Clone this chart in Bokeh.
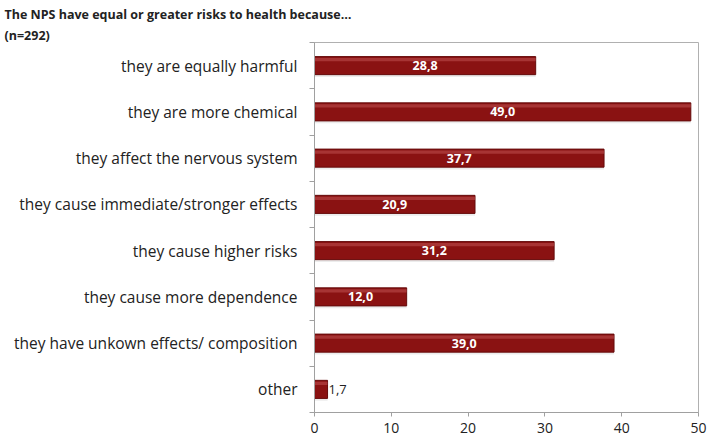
from bokeh.plotting import figure
from bokeh.models import Range1d, FixedTicker, Label, Title, ColumnDataSource
from bokeh.core.properties import value
from bokeh.embed import file_html
from bokeh.resources import INLINE

title_lines = ["The NPS have equal or greater risks to health because\u2026", "(n=292)"]
categories = [
    "they are equally harmful",
    "they are more chemical",
    "they affect the nervous system",
    "they cause immediate/stronger effects",
    "they cause higher risks",
    "they cause more dependence",
    "they have unkown effects/ composition",
    "other",
]
values = [28.8, 49.0, 37.7, 20.9, 31.2, 12.0, 39.0, 1.7]
x_ticks = [0, 10, 20, 30, 40, 50]

n = len(categories)
ypos = [n - i - 0.5 for i in range(n)]
labels = [f"{v:.1f}".replace(".", ",") for v in values]
inside = [v >= 5 for v in values]

src_in = ColumnDataSource(dict(
    y=[y for y, k in zip(ypos, inside) if k],
    x=[v / 2 for v, k in zip(values, inside) if k],
    t=[l for l, k in zip(labels, inside) if k],
))
src_out = ColumnDataSource(dict(
    y=[y for y, k in zip(ypos, inside) if not k],
    x=[v for v, k in zip(values, inside) if not k],
    t=[l for l, k in zip(labels, inside) if not k],
))

W, H = 707, 440
LEFT, RIGHT, TOP, BOTTOM = 314, 9, 42, 28

p = figure(width=W, height=H, output_backend="svg", toolbar_location=None,
           x_range=Range1d(0, 50), y_range=Range1d(0, n),
           min_border_left=LEFT, min_border_right=RIGHT,
           min_border_bottom=BOTTOM, min_border_top=TOP)

# soft shadow under bars
p.hbar(y=[y - 0.05 for y in ypos], right=values, left=0, height=0.39,
       fill_color="#c8c8c8", fill_alpha=0.35, line_color=None)
p.hbar(y=ypos, right=values, left=0, height=0.39, fill_color="#8a1212",
       line_color="#650b0b", line_width=1)
p.hbar(y=[y + 0.13 for y in ypos], right=values, left=0, height=0.07,
       fill_color="#c05050", line_color=None, fill_alpha=0.55)

p.text(x="x", y="y", text="t", source=src_in, text_align="center", text_baseline="middle",
       text_color="white", text_font_style="bold", text_font_size="12.5px",
       text_font=value("Open Sans"))
p.text(x="x", y="y", text="t", source=src_out, text_align="left", text_baseline="middle",
       text_color="#222222", text_font_size="13px", text_font=value("Open Sans"), x_offset=1)

p.xaxis.ticker = FixedTicker(ticks=x_ticks)
p.yaxis.ticker = FixedTicker(ticks=ypos, minor_ticks=list(range(n + 1)))
p.yaxis.major_label_overrides = {y: c for y, c in zip(ypos, categories)}
p.yaxis.major_tick_out = 0
p.yaxis.major_tick_in = 0
p.yaxis.minor_tick_out = 5
p.yaxis.minor_tick_in = 0
p.xaxis.major_tick_out = 4
p.xaxis.major_tick_in = 0
for ax in (p.xaxis, p.yaxis):
    ax.axis_line_color = "#a0a0a0"
    ax.major_tick_line_color = "#a0a0a0"
    ax.minor_tick_line_color = "#a0a0a0"
    ax.major_label_text_font = "Open Sans"
    ax.major_label_text_color = "#222222"
p.xaxis.minor_tick_line_color = None
p.yaxis.major_label_text_font_size = "15.5px"
p.xaxis.major_label_text_font_size = "14px"
p.yaxis.major_label_standoff = 12
p.xaxis.major_label_standoff = 6

p.xgrid.grid_line_color = None
p.ygrid.grid_line_color = None
p.outline_line_color = "#b0b0b0"

p.add_layout(Label(x=50, y=0, text="%", text_font="Open Sans", text_font_size="9px",
                   text_color="#444444", x_offset=0, y_offset=-1, text_baseline="bottom"))

p.add_layout(Title(text="\n".join(title_lines), text_font="Open Sans",
                   text_font_size="12.5px", text_font_style="bold", text_color="#222222",
                   align="left", offset=-(LEFT - 4), standoff=-3,
                   text_line_height=1.25), "above")

open("out.html", "w").write(file_html(p, INLINE))
